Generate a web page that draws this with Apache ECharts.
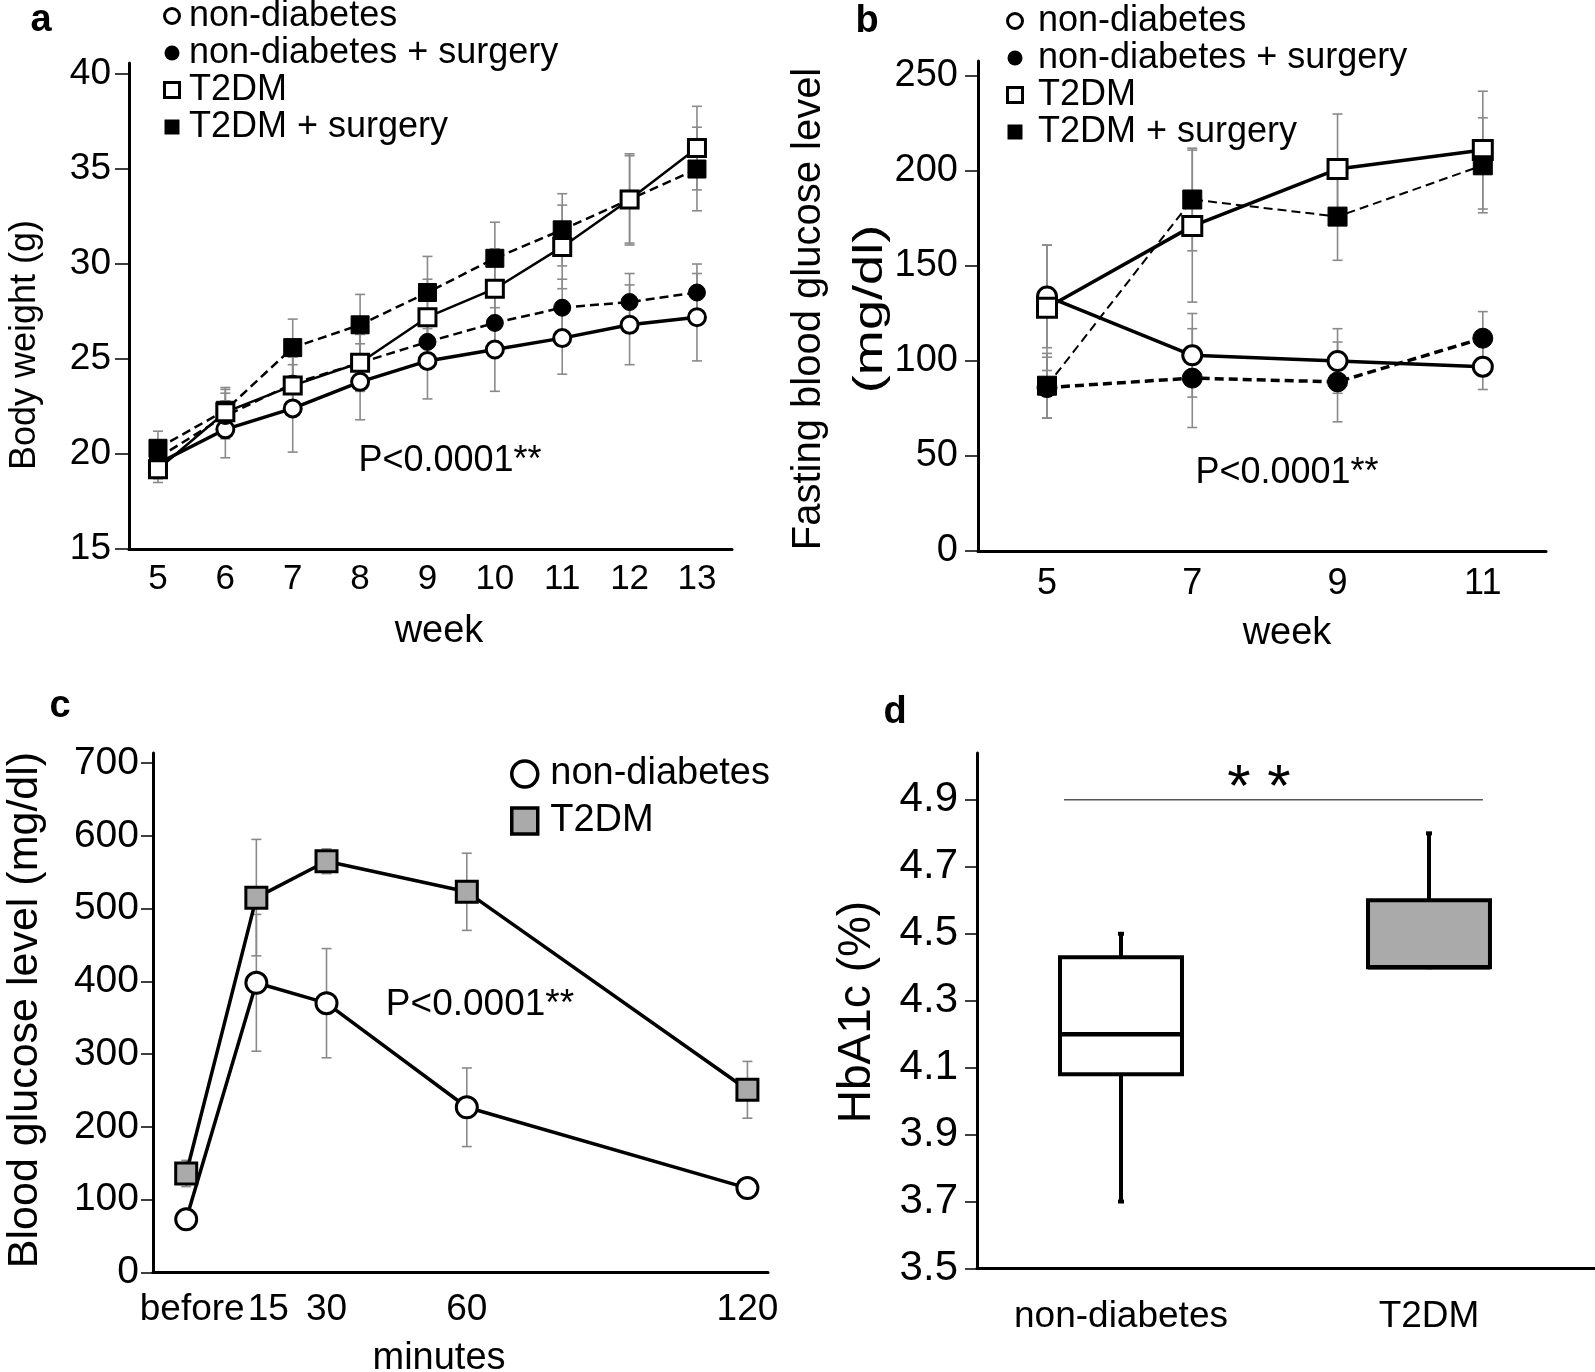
<!DOCTYPE html>
<html>
<head>
<meta charset="utf-8">
<script src="https://cdn.jsdelivr.net/npm/echarts@6/dist/echarts.min.js"></script>
<style>
html, body { margin: 0; padding: 0; background: #fff; }
#chart { width: 1595px; height: 1372px; }
</style>
</head>
<body>
<div id="chart"></div>
<script>
// panel a: body weight (g) by week
const weeksA = [5, 6, 7, 8, 9, 10, 11, 12, 13];
const aNon = [19.5, 21.3, 22.4, 23.8, 24.9, 25.5, 26.1, 26.8, 27.2];
const aNonErr = [0.8, 1.5, 2.3, 2.0, 2.0, 2.2, 1.9, 2.1, 2.3];
const aNonSurg = [19.8, 22.0, 23.7, 24.8, 25.9, 26.9, 27.7, 28.0, 28.5];
const aNonSurgErr = [0.8, 1.2, 1.5, 1.5, 1.4, 1.6, 1.5, 1.5, 1.5];
const aT2 = [19.2, 22.2, 23.6, 24.8, 27.2, 28.7, 30.9, 33.4, 36.1];
const aT2Err = [0.7, 1.2, 1.5, 1.5, 2.0, 2.1, 2.2, 2.4, 2.2];
const aT2Surg = [20.3, 22.3, 25.6, 26.8, 28.5, 30.3, 31.8, 33.4, 35.0];
const aT2SurgErr = [0.9, 1.2, 1.5, 1.6, 1.9, 1.9, 1.9, 2.3, 2.2];
const ticksA = [15, 20, 25, 30, 35, 40];

// panel b: fasting blood glucose (mg/dl)
const weeksB = [5, 7, 9, 11];
const bNon = [134, 103, 100, 97];
const bNonErr = [27, 22, 17, 12];
const bNonSurg = [86, 91, 89, 112];
const bNonSurgErr = [16, 26, 21, 14];
const bT2 = [128, 171, 201, 211];
const bT2Err = [33, 40, 29, 31];
const bT2Surg = [87, 185, 176, 203];
const bT2SurgErr = [17, 27, 23, 25];
const ticksB = [0, 50, 100, 150, 200, 250];

// panel c: glucose tolerance (mg/dl) by minutes
const minutesC = [0, 15, 30, 60, 120];
const minutesLabels = ['before', '15', '30', '60', '120'];
const cNon = [73, 398, 370, 227, 116];
const cNonErr = [8, 94, 75, 54, 12];
const cT2 = [136, 515, 565, 523, 251];
const cT2Err = [18, 80, 17, 53, 39];
const ticksC = [0, 100, 200, 300, 400, 500, 600, 700];

// panel d: HbA1c (%) boxes [min, q1, median, q3, max]
const groupsD = ['non-diabetes', 'T2DM'];
const hbaNon = [3.7, 4.08, 4.2, 4.43, 4.5];
const hbaT2 = [4.4, 4.4, 4.4, 4.6, 4.8];
const ticksD = [3.5, 3.7, 3.9, 4.1, 4.3, 4.5, 4.7, 4.9];
const sigBar = [-0.185, 1.175, 4.9];

const FONT = '"Liberation Sans", Arial, Helvetica, sans-serif';
const SQUARE = 'path://M0,0H10V10H0Z';

const pairs = (xs, ys) => xs.map((x, i) => [x, ys[i]]);
const triples = (xs, ys, es) => xs.map((x, i) => [x, ys[i], es[i]]);

function renderErr(params, api) {
  const x = api.value(0), y = api.value(1), e = api.value(2);
  const hi = api.coord([x, y + e]);
  const lo = api.coord([x, y - e]);
  const w = 5;
  const st = { stroke: '#8a8a8a', lineWidth: 1.6 };
  return {
    type: 'group',
    children: [
      { type: 'line', shape: { x1: hi[0], y1: hi[1], x2: lo[0], y2: lo[1] }, style: st },
      { type: 'line', shape: { x1: hi[0] - w, y1: hi[1], x2: hi[0] + w, y2: hi[1] }, style: st },
      { type: 'line', shape: { x1: lo[0] - w, y1: lo[1], x2: lo[0] + w, y2: lo[1] }, style: st },
    ],
  };
}

function errSeries(idx, xs, ys, es) {
  return {
    type: 'custom', xAxisIndex: idx, yAxisIndex: idx, silent: true, z: 1,
    renderItem: renderErr, data: triples(xs, ys, es), encode: { x: 0, y: [1, 2] },
  };
}

function lineSeries(idx, name, xs, ys, o) {
  return {
    type: 'line', name, xAxisIndex: idx, yAxisIndex: idx, silent: true, z: o.z || 3,
    data: pairs(xs, ys), symbol: o.symbol, symbolSize: o.size, showAllSymbol: true,
    lineStyle: { color: '#000', width: o.width, type: o.dash ? [9, 5] : 'solid' },
    itemStyle: { color: o.fill, borderColor: '#000', borderWidth: o.border },
    emphasis: { disabled: true },
  };
}

function renderBox(params, api) {
  const x = api.value(0);
  const pLo = api.coord([x, api.value(1)]);
  const pQ1 = api.coord([x, api.value(2)]);
  const pMed = api.coord([x, api.value(3)]);
  const pQ3 = api.coord([x, api.value(4)]);
  const pHi = api.coord([x, api.value(5)]);
  const half = api.size([1, 0])[0] * 0.198;
  const cx = pQ1[0];
  const st = { stroke: '#000', lineWidth: 4 };
  return {
    type: 'group',
    children: [
      { type: 'line', shape: { x1: cx, y1: pQ3[1], x2: cx, y2: pHi[1] }, style: st },
      { type: 'line', shape: { x1: cx, y1: pQ1[1], x2: cx, y2: pLo[1] }, style: st },
      { type: 'line', shape: { x1: cx - 3, y1: pHi[1], x2: cx + 3, y2: pHi[1] }, style: st },
      { type: 'line', shape: { x1: cx - 3, y1: pLo[1], x2: cx + 3, y2: pLo[1] }, style: st },
      { type: 'rect', shape: { x: cx - half, y: pQ3[1], width: 2 * half, height: pQ1[1] - pQ3[1] },
        style: { fill: api.visual('color'), stroke: '#000', lineWidth: 4 } },
      { type: 'line', shape: { x1: cx - half, y1: pMed[1], x2: cx + half, y2: pMed[1] }, style: { stroke: '#000', lineWidth: 4.5 } },
    ],
  };
}

function xAxis(idx, min, max, values, fontSize, margin, fmt, extra) {
  return Object.assign({
    type: 'value', gridIndex: idx, min, max, position: 'bottom',
    axisLine: { show: true, onZero: false, lineStyle: { color: '#000', width: 3 } },
    axisTick: { show: false },
    axisLabel: {
      customValues: values, fontSize, margin, color: '#000', fontFamily: FONT, formatter: fmt,
      showMinLabel: true, showMaxLabel: true, hideOverlap: false,
      rich: { p: { fontSize, fontFamily: FONT, color: '#000', padding: [0, 0, 0, 24] },
              q: { fontSize, fontFamily: FONT, color: '#000', padding: [0, 0, 0, 12] } },
    },
    splitLine: { show: false },
  }, extra || {});
}

function yAxis(idx, min, max, values, fontSize, margin, tickLen, fmt) {
  return {
    type: 'value', gridIndex: idx, min, max,
    axisLine: { show: true, onZero: false, lineStyle: { color: '#000', width: 3 } },
    axisTick: { show: true, length: tickLen, customValues: values, lineStyle: { color: '#000', width: 1.5 } },
    axisLabel: {
      customValues: values, fontSize, margin, color: '#000', fontFamily: FONT, formatter: fmt,
      showMinLabel: true, showMaxLabel: true,
    },
    splitLine: { show: false },
  };
}

function text(str, x, y, size, opts) {
  opts = opts || {};
  return {
    type: 'text', x, y, rotation: opts.rot || 0, scaleX: opts.sx || 1, silent: true,
    style: {
      text: str, fill: '#000', align: 'center', verticalAlign: 'middle',
      font: (opts.bold ? 'bold ' : '') + size + 'px ' + FONT,
    },
  };
}

const minuteLabel = v => {
  const s = minutesLabels[minutesC.indexOf(v)];
  if (v === minutesC[0]) return '{q|' + s + '}';
  if (v === minutesC[1]) return '{p|' + s + '}';
  return s;
};

const openItem = { color: '#fff', borderColor: '#000', borderWidth: 3 };
const solidItem = { color: '#000', borderColor: '#000', borderWidth: 0 };
const legendBase = {
  orient: 'vertical', padding: 0, selectedMode: false,
  itemWidth: 24, itemHeight: 15, itemGap: 1,
  textStyle: { fontSize: 36, color: '#000', fontFamily: FONT },
};
const fourItems = [
  { name: 'non-diabetes', icon: 'circle', itemStyle: openItem },
  { name: 'non-diabetes + surgery', icon: 'circle', itemStyle: solidItem },
  { name: 'T2DM', icon: SQUARE, itemStyle: openItem },
  { name: 'T2DM + surgery', icon: SQUARE, itemStyle: solidItem },
];

const chart = echarts.init(document.getElementById('chart'));

const option = {
  animation: false,
  backgroundColor: '#fff',
  grid: [
    { left: 129, top: 63, width: 603, height: 486, outerBoundsMode: 'none' },
    { left: 978, top: 61, width: 568, height: 490, outerBoundsMode: 'none' },
    { left: 153, top: 753, width: 615, height: 519.5, outerBoundsMode: 'none' },
    { left: 977, top: 753, width: 618, height: 515.5, outerBoundsMode: 'none' },
  ],
  xAxis: [
    xAxis(0, 4.57, 13.52, weeksA, 35, 13),
    xAxis(1, 4.05, 11.87, weeksB, 36, 15),
    xAxis(2, -7.1, 124.4, minutesC.slice(1), 37, 19, minuteLabel),
    xAxis(3, -0.4675, 1.539, [0, 1], 37, 30, v => groupsD[v]),
    // "before" label on its own axis so it never hides the "15" label
    xAxis(2, -7.1, 124.4, minutesC.slice(0, 1), 37, 19, minuteLabel, { axisLine: { show: false, onZero: false } }),
  ],
  yAxis: [
    yAxis(0, 15, 40.58, ticksA, 37, 18, 14),
    yAxis(1, 0, 257.9, ticksB, 38, 20, 13),
    yAxis(2, 0, 713.7, ticksC, 39, 14, 12),
    yAxis(3, 3.5, 5.04, ticksD, 42, 19, 12, v => v.toFixed(1)),
  ],
  legend: [
    Object.assign({}, legendBase, { left: 163, top: -2, data: fourItems }),
    Object.assign({}, legendBase, { left: 1006, top: 3, itemWidth: 36, data: fourItems }),
    Object.assign({}, legendBase, {
      left: 510, top: 755, itemWidth: 41, itemHeight: 26, itemGap: 9,
      textStyle: { fontSize: 38, color: '#000', fontFamily: FONT },
      data: [
        { name: 'non-diabetes', icon: 'circle', itemStyle: { color: '#fff', borderColor: '#000', borderWidth: 3.5 } },
        { name: 'T2DM', icon: SQUARE, itemStyle: { color: '#aaa', borderColor: '#000', borderWidth: 3.5 } },
      ],
    }),
  ],
  graphic: [
    text('a', 41, 21, 38, { bold: true }),
    text('b', 867, 22, 38, { bold: true }),
    text('c', 60, 707, 38, { bold: true }),
    text('d', 895, 713, 38, { bold: true }),
    text('Body weight (g)', 25, 345, 36, { rot: Math.PI / 2 }),
    text('week', 439, 632, 38),
    text('P<0.0001**', 450, 461, 36),
    text('Fasting blood glucose level', 809, 309, 40, { rot: Math.PI / 2 }),
    text('(mg/dl)', 871, 309, 41, { rot: Math.PI / 2, sx: 1.32 }),
    text('week', 1287, 634, 38),
    text('P<0.0001**', 1287, 473, 36),
    text('Blood glucose level (mg/dl)', 25, 1010, 43, { rot: Math.PI / 2 }),
    text('minutes', 439, 1359, 38),
    text('P<0.0001**', 480, 1005, 37),
    text('HbA1c (%)', 857, 1012, 46, { rot: Math.PI / 2 }),
    text('* *', 1259, 789, 60),
  ],
  series: [
    // panel a
    errSeries(0, weeksA, aNon, aNonErr),
    errSeries(0, weeksA, aNonSurg, aNonSurgErr),
    errSeries(0, weeksA, aT2, aT2Err),
    errSeries(0, weeksA, aT2Surg, aT2SurgErr),
    lineSeries(0, 'non-diabetes', weeksA, aNon, { symbol: 'circle', size: 17, fill: '#fff', border: 3, width: 3.5 }),
    lineSeries(0, 'non-diabetes + surgery', weeksA, aNonSurg, { symbol: 'circle', size: 17, fill: '#000', border: 1, width: 2.5, dash: true }),
    lineSeries(0, 'T2DM', weeksA, aT2, { symbol: 'rect', size: 17, fill: '#fff', border: 3, width: 2.5, z: 4 }),
    lineSeries(0, 'T2DM + surgery', weeksA, aT2Surg, { symbol: 'rect', size: 18, fill: '#000', border: 1, width: 2.5, dash: true }),
    // panel b
    errSeries(1, weeksB, bNon, bNonErr),
    errSeries(1, weeksB, bNonSurg, bNonSurgErr),
    errSeries(1, weeksB, bT2, bT2Err),
    errSeries(1, weeksB, bT2Surg, bT2SurgErr),
    lineSeries(1, 'non-diabetes', weeksB, bNon, { symbol: 'circle', size: 19, fill: '#fff', border: 3, width: 3.5 }),
    lineSeries(1, 'non-diabetes + surgery', weeksB, bNonSurg, { symbol: 'circle', size: 20, fill: '#000', border: 1, width: 3.5, dash: true }),
    lineSeries(1, 'T2DM', weeksB, bT2, { symbol: 'rect', size: 19, fill: '#fff', border: 3, width: 3.5 }),
    lineSeries(1, 'T2DM + surgery', weeksB, bT2Surg, { symbol: 'rect', size: 19, fill: '#000', border: 1, width: 2, dash: true, z: 4 }),
    // panel c
    errSeries(2, minutesC, cNon, cNonErr),
    errSeries(2, minutesC, cT2, cT2Err),
    lineSeries(2, 'non-diabetes', minutesC, cNon, { symbol: 'circle', size: 21, fill: '#fff', border: 3, width: 3.5 }),
    lineSeries(2, 'T2DM', minutesC, cT2, { symbol: 'rect', size: 21, fill: '#aaa', border: 3, width: 3.5 }),
    // panel d
    {
      type: 'custom', xAxisIndex: 3, yAxisIndex: 3, silent: true, renderItem: renderBox,
      itemStyle: { color: '#fff' }, encode: { x: 0, y: [1, 2, 3, 4, 5] },
      data: [[0].concat(hbaNon)],
    },
    {
      type: 'custom', xAxisIndex: 3, yAxisIndex: 3, silent: true, renderItem: renderBox,
      itemStyle: { color: '#aaa' }, encode: { x: 0, y: [1, 2, 3, 4, 5] },
      data: [[1].concat(hbaT2)],
    },
    {
      type: 'line', xAxisIndex: 3, yAxisIndex: 3, silent: true, symbol: 'none',
      lineStyle: { color: '#555', width: 1.5 },
      data: [[sigBar[0], sigBar[2]], [sigBar[1], sigBar[2]]],
    },
  ],
};

chart.setOption(option);
</script>
</body>
</html>
